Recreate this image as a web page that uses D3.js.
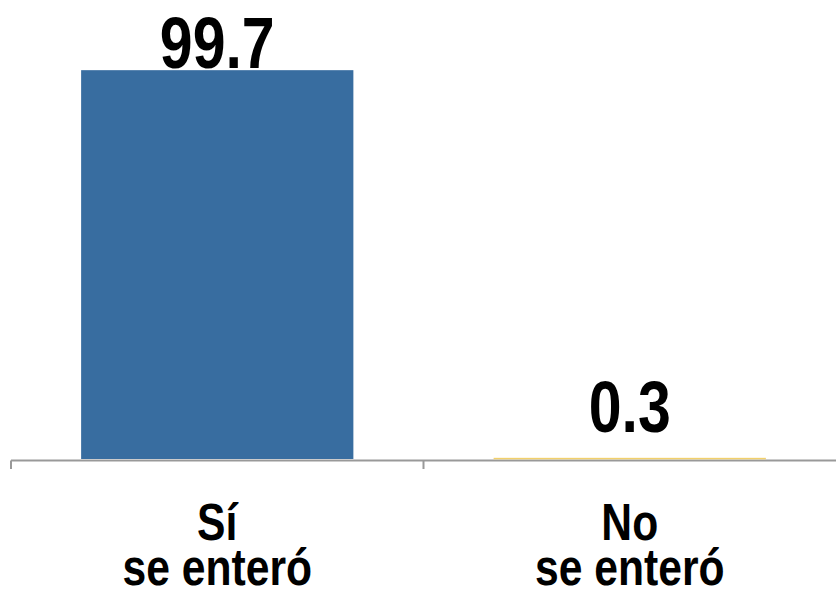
<!DOCTYPE html>
<html>
<head>
<meta charset="utf-8">
<script src="https://cdn.jsdelivr.net/npm/d3@7"></script>
<style>
  body { margin: 0; background: #fff; }
  text { font-family: "Liberation Sans", Arial, sans-serif; font-weight: bold; fill: #000; }
</style>
</head>
<body>
<script>
// chart data
var categories = [["Sí", "se enteró"], ["No", "se enteró"]];
var values = [99.7, 0.3];
var labels = ["99.7", "0.3"];
var colors = ["#386da0", "#f2d06b"];

window.onload = function() {
    drawChart();
};

function drawChart() {
    var width = 836,
        height = 592;

    //narrow look: squeeze Liberation Sans horizontally
    var squeeze = 0.82;

    var svg = d3.select("body")
        .append("svg")
        .attr("width", width)
        .attr("height", height);

    //x scale, two bands across the axis
    var x = d3.scaleBand()
        .domain(d3.range(values.length))
        .range([11, 836])
        .paddingInner(0.34)
        .paddingOuter(0.17);

    var y = d3.scaleLinear()
        .domain([0, 100])
        .range([459, 69]);

    //axis line and ticks
    var step = x.step();
    svg.append("line")
        .attr("x1", 11).attr("x2", 836)
        .attr("y1", y(0) + 1.5).attr("y2", y(0) + 1.5)
        .attr("stroke", "#999").attr("stroke-width", 2);

    svg.selectAll(".tick")
        .data(d3.range(values.length))
        .enter()
        .append("line")
        .attr("class", "tick")
        .attr("x1", function(d) { return 11 + d * step; })
        .attr("x2", function(d) { return 11 + d * step; })
        .attr("y1", y(0) + 1.5)
        .attr("y2", y(0) + 10)
        .attr("stroke", "#999").attr("stroke-width", 2);

    //bars
    svg.selectAll(".bar")
        .data(values)
        .enter()
        .append("rect")
        .attr("class", "bar")
        .attr("x", function(d, i) { return x(i); })
        .attr("width", x.bandwidth())
        .attr("y", function(d) { return y(d); })
        .attr("height", function(d) { return Math.max(y(0) - y(d), 1.5); })
        .attr("fill", function(d, i) { return colors[i]; });

    //value labels (kept inside the top of the frame)
    svg.selectAll(".val")
        .data(values)
        .enter()
        .append("g")
        .attr("class", "val")
        .attr("transform", function(d, i) {
            var cx = x(i) + x.bandwidth() / 2,
                by = Math.max(y(d) - 26, 68);
            return "translate(" + cx + "," + by + ") scale(" + squeeze + ",1)";
        })
        .append("text")
        .attr("text-anchor", "middle")
        .style("font-size", "72px")
        .text(function(d, i) { return labels[i]; });

    //category labels, two lines each
    var cat = svg.selectAll(".cat")
        .data(categories)
        .enter()
        .append("g")
        .attr("class", "cat")
        .attr("transform", function(d, i) {
            return "translate(" + (x(i) + x.bandwidth() / 2) + ",540) scale(" + squeeze + ",1)";
        });

    cat.selectAll("text")
        .data(function(d) { return d; })
        .enter()
        .append("text")
        .attr("text-anchor", "middle")
        .attr("y", function(d, j) { return j * 45; })
        .style("font-size", "52px")
        .text(function(d) { return d; });
}
</script>
</body>
</html>
